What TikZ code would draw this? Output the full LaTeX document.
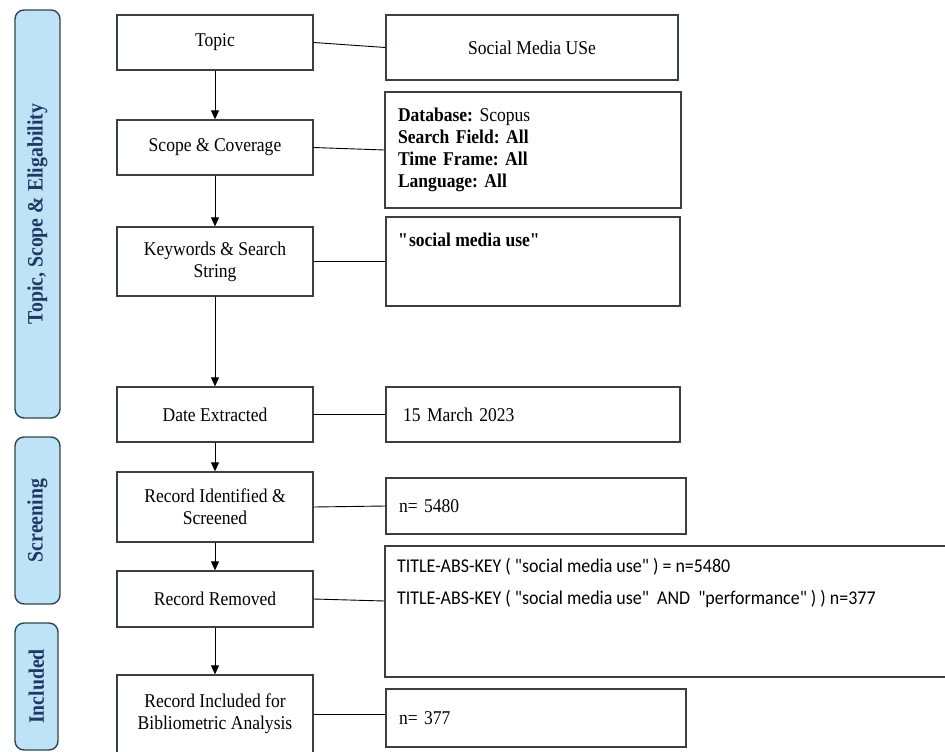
\documentclass[tikz,border=0pt]{standalone}
\usepackage{fontspec}
\setmainfont[FakeStretch=0.9]{Liberation Serif}
\newfontfamily\calib[FakeStretch=0.92]{Carlito}
\usetikzlibrary{arrows.meta}
\definecolor{barfill}{HTML}{BEE3F6}
\definecolor{barline}{HTML}{2F4650}
\definecolor{bartext}{HTML}{203864}
\definecolor{boxline}{HTML}{3A3F44}
\frenchspacing
\begin{document}
\begin{tikzpicture}[x=1pt,y=-1pt,
  lbox/.style={draw=boxline, line width=1.3pt, fill=white, minimum width=196pt, inner sep=2pt, align=center, font=\fontsize{19.5}{22}\selectfont},
  rbox/.style={draw=boxline, line width=1.3pt, fill=white, inner sep=0pt},
  rtext/.style={rbox, align=left, font=\fontsize{19.5}{22}\selectfont},
  sidebar/.style={draw=barline, line width=1.4pt, fill=barfill, rounded corners=9pt, rotate=90, text=bartext, font=\fontsize{22}{24}\selectfont\bfseries, inner sep=0pt},
  link/.style={draw=black, line width=0.9pt},
  flow/.style={draw=black, line width=0.9pt, -{Triangle[width=8pt,length=9pt]}}
]
\path[use as bounding box] (0,0) rectangle (945,752);
\clip (0,0) rectangle (945,752);

% side bars
\node[sidebar, minimum width=408pt, minimum height=45pt] (bar1) at (37.5,214) {Topic, Scope \& Eligability};
\node[sidebar, minimum width=167pt, minimum height=45pt] (bar2) at (37.5,520.5) {Screening};
\node[sidebar, minimum width=127pt, minimum height=43pt] (bar3) at (36.5,686.5) {Included};

% left column
\node[lbox, minimum height=55pt] (topic) at (215,42.5) {Topic};
\node[lbox, minimum height=55pt] (scope) at (215,147.5) {Scope \& Coverage};
\node[lbox, minimum height=69pt] (kw) at (215,261.5) {Keywords \& Search\\String};
\node[lbox, minimum height=55pt] (date) at (215,414.5) {Date Extracted};
\node[lbox, minimum height=70pt] (recid) at (215,507) {Record Identified \&\\Screened};
\node[lbox, minimum height=56pt] (recrem) at (215,599) {Record Removed};
\node[lbox, minimum height=78pt] (incl) at (215,714) {Record Included for\\Bibliometric Analysis};

% right column
\node[rtext, minimum width=292pt, minimum height=65pt, align=center] (social) at (532,47.5) {Social Media USe};
\node[rtext, minimum width=296pt, minimum height=116pt, text width=270pt] (db) at (533,150)
  {\textbf{Database:} Scopus\\\textbf{Search Field: All}\\\textbf{Time Frame: All}\\\textbf{Language: All}};
\node[rbox, minimum width=294pt, minimum height=89pt] (kwbox) at (533,261.5) {};
\node[anchor=west, inner sep=0pt, font=\fontsize{19.5}{22}\selectfont\bfseries] (kwt) at (398,240) {\textquotedbl social media use\textquotedbl};
\node[rtext, minimum width=294pt, minimum height=55pt, text width=260pt] (march) at (533,414.5) {15 March 2023};
\node[rtext, minimum width=300pt, minimum height=56pt, text width=274pt] (n5480) at (536,506) {n= 5480};
\node[rbox, minimum width=565pt, minimum height=131pt] (title) at (667.5,611.5) {};
\node[anchor=base west, inner sep=0pt, font=\calib\fontsize{19.5}{22}\selectfont] (t1) at (397,572)
  {TITLE-ABS-KEY ( "social media use" ) = n=5480};
\node[anchor=base west, inner sep=0pt, font=\calib\fontsize{19.5}{22}\selectfont] (t2) at (397,604)
  {TITLE-ABS-KEY ( "social media use"\ \ AND\ \ "performance" ) ) n=377};
\node[rtext, minimum width=300pt, minimum height=58pt, text width=274pt] (n377) at (536,718) {n= 377};

% flow arrows
\draw[flow] (topic) -- (scope);
\draw[flow] (scope) -- (kw);
\draw[flow] (kw) -- (date);
\draw[flow] (date) -- (recid);
\draw[flow] (recid) -- (recrem);
\draw[flow] (recrem) -- (incl);

% links
\draw[link] (topic.east) -- (social.west);
\draw[link] (scope.east) -- (db.west);
\draw[link] (kw.east) -- (kwbox.west);
\draw[link] (date.east) -- (march.west);
\draw[link] (recid.east) -- (n5480.west);
\draw[link] (recrem.east) -- ([yshift=-2pt]title.west |- recrem.east);
\draw[link] (incl.east) -- (n377.west |- incl.east);
\end{tikzpicture}
\end{document}
